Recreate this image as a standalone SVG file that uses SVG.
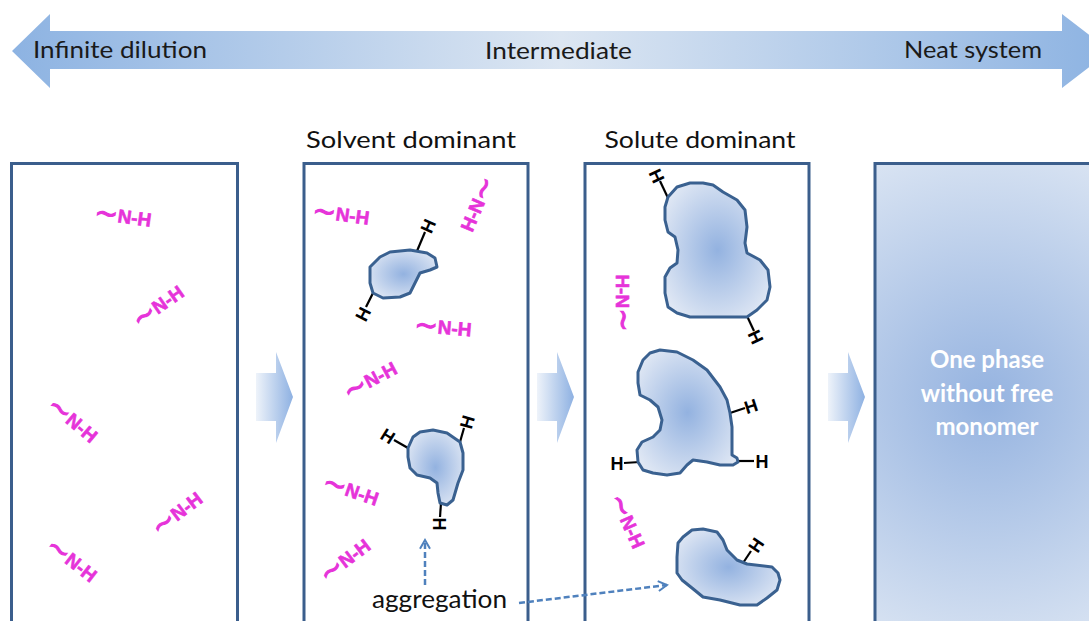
<svg xmlns="http://www.w3.org/2000/svg" width="1089" height="621" viewBox="0 0 1089 621">
  <defs>
    <linearGradient id="scaleGrad" x1="12" y1="0" x2="1110" y2="0" gradientUnits="userSpaceOnUse">
      <stop offset="0" stop-color="#8db3e2"/>
      <stop offset="0.5" stop-color="#dce6f2"/>
      <stop offset="1" stop-color="#8db3e2"/>
    </linearGradient>
    <linearGradient id="stepGrad" x1="0" y1="0" x2="1" y2="0">
      <stop offset="0" stop-color="#eef3fa"/>
      <stop offset="1" stop-color="#8eb1e2"/>
    </linearGradient>
    <radialGradient id="blobGrad" cx="0.5" cy="0.5" r="0.6">
      <stop offset="0" stop-color="#93b2e0"/>
      <stop offset="1" stop-color="#dfe7f4"/>
    </radialGradient>
    <radialGradient id="phaseGrad" cx="987" cy="400" r="270" gradientUnits="userSpaceOnUse">
      <stop offset="0" stop-color="#95b3e0"/>
      <stop offset="1" stop-color="#dbe5f3"/>
    </radialGradient>
    <marker id="openHead" viewBox="0 0 10 10" refX="8" refY="5" markerWidth="5" markerHeight="5" orient="auto" markerUnits="strokeWidth">
      <path d="M1,1 L8,5 L1,9" fill="none" stroke="#4f81bd" stroke-width="1.6"/>
    </marker>
  </defs>
  <style>
    .scale { font-family: Lato, "Liberation Sans", sans-serif; font-size: 24px; fill: #1a1a1a; }
    .head { font-family: Lato, "Liberation Sans", sans-serif; font-size: 23px; fill: #111; }
    .panel { fill: #ffffff; stroke: #3b5e8c; stroke-width: 3; }
    .blob { fill: url(#blobGrad); stroke: #3a6190; stroke-width: 3; stroke-linejoin: round; }
    .nh { font-family: "Liberation Sans", sans-serif; font-weight: bold; font-size: 19px; fill: #e633d9; stroke: #e633d9; stroke-width: 0.6; }
    .tl { font-family: "DejaVu Sans", sans-serif; font-size: 28px; font-weight: normal; stroke-width: 1.1; }
    .stub { stroke: #000; stroke-width: 2.2; }
    .hh { font-family: "Liberation Sans", sans-serif; font-weight: bold; font-size: 18px; fill: #000; }
    .agg { stroke: #4f81bd; stroke-width: 2.5; stroke-dasharray: 6 3; fill: none; }
    .aggText { font-family: Lato, "Liberation Sans", sans-serif; font-size: 25px; fill: #111; }
    .phaseText { font-family: Lato, "Liberation Sans", sans-serif; font-weight: bold; font-size: 24px; fill: #ffffff; }
  </style>

  <!-- concentration scale -->
  <g id="scale">
    <path d="M12,51 L50,14 L50,31 L1062,31 L1062,14 L1110,51 L1062,88 L1062,69 L50,69 L50,88 Z" fill="url(#scaleGrad)"/>
    <text class="scale" x="33" y="58" textLength="174" lengthAdjust="spacingAndGlyphs">Infinite dilution</text>
    <text class="scale" x="485" y="59" textLength="147" lengthAdjust="spacingAndGlyphs">Intermediate</text>
    <text class="scale" x="904" y="58" textLength="138" lengthAdjust="spacingAndGlyphs">Neat system</text>
  </g>

  <!-- panel 1: infinite dilution -->
  <g id="panel-dilute">
    <rect class="panel" x="11.5" y="163.5" width="226" height="470"/>
    <text class="nh" text-anchor="middle" transform="translate(123,216) rotate(8)" y="7"><tspan class="tl" dy="2">~</tspan><tspan dy="-2">N-H</tspan></text>
    <text class="nh" text-anchor="middle" transform="translate(158,306) rotate(-35)" y="7"><tspan class="tl" dy="2">~</tspan><tspan dy="-2">N-H</tspan></text>
    <text class="nh" text-anchor="middle" transform="translate(73,420) rotate(40)" y="7"><tspan class="tl" dy="2">~</tspan><tspan dy="-2">N-H</tspan></text>
    <text class="nh" text-anchor="middle" transform="translate(177,513) rotate(-37)" y="7"><tspan class="tl" dy="2">~</tspan><tspan dy="-2">N-H</tspan></text>
    <text class="nh" text-anchor="middle" transform="translate(72,560) rotate(38)" y="7"><tspan class="tl" dy="2">~</tspan><tspan dy="-2">N-H</tspan></text>
  </g>

  <!-- panel 2: solvent dominant -->
  <g id="panel-solvent">
    <text class="head" x="411" y="148" text-anchor="middle" textLength="210" lengthAdjust="spacingAndGlyphs">Solvent dominant</text>
    <rect class="panel" x="304" y="163.5" width="224" height="470"/>
    <text class="nh" text-anchor="middle" transform="translate(341,214) rotate(8)" y="7"><tspan class="tl" dy="2">~</tspan><tspan dy="-2">N-H</tspan></text>
    <text class="nh" text-anchor="middle" transform="translate(477,204) rotate(-67)" y="7">H-N<tspan class="tl" dy="2">~</tspan></text>
    <text class="nh" text-anchor="middle" transform="translate(443,327) rotate(5)" y="7"><tspan class="tl" dy="2">~</tspan><tspan dy="-2">N-H</tspan></text>
    <text class="nh" text-anchor="middle" transform="translate(370,380) rotate(-28)" y="7"><tspan class="tl" dy="2">~</tspan><tspan dy="-2">N-H</tspan></text>
    <text class="nh" text-anchor="middle" transform="translate(351,490) rotate(19)" y="7"><tspan class="tl" dy="2">~</tspan><tspan dy="-2">N-H</tspan></text>
    <text class="nh" text-anchor="middle" transform="translate(345,560) rotate(-37)" y="7"><tspan class="tl" dy="2">~</tspan><tspan dy="-2">N-H</tspan></text>

    <g id="aggregate-small">
      <line class="stub" x1="417" y1="251" x2="425" y2="232"/>
      <text class="hh" text-anchor="middle" transform="translate(428,226) rotate(-66)" y="6.5">H</text>
      <line class="stub" x1="373" y1="293" x2="366" y2="307"/>
      <text class="hh" text-anchor="middle" transform="translate(363,314) rotate(-63)" y="6.5">H</text>
      <polygon class="blob" points="370,267 380,257 390,252 410,250 427,253 435,258 437,267 430,270 420,273 415,283 410,293 400,297 383,298 373,293 370,283"/>
    </g>

    <g id="aggregate-medium">
      <line class="stub" x1="408" y1="448" x2="394" y2="440"/>
      <text class="hh" text-anchor="middle" transform="translate(388,436) rotate(32)" y="6.5">H</text>
      <line class="stub" x1="460" y1="442" x2="464" y2="428"/>
      <text class="hh" text-anchor="middle" transform="translate(467,422) rotate(-74)" y="6.5">H</text>
      <line class="stub" x1="441" y1="503" x2="440" y2="517"/>
      <text class="hh" text-anchor="middle" transform="translate(439,524) rotate(90)" y="6.5">H</text>
      <polygon class="blob" points="408,448 413,437 420,432 433,430 447,433 460,442 463,453 463,470 458,483 453,500 447,505 440,503 438,493 437,483 430,478 417,475 410,468 408,457"/>
    </g>
  </g>

  <!-- panel 3: solute dominant -->
  <g id="panel-solute">
    <text class="head" x="700" y="148" text-anchor="middle" textLength="191" lengthAdjust="spacingAndGlyphs">Solute dominant</text>
    <rect class="panel" x="585" y="163.5" width="224" height="470"/>
    <text class="nh" text-anchor="middle" transform="translate(623,303) rotate(90)" y="7">H-N<tspan class="tl" dy="2">~</tspan></text>
    <text class="nh" text-anchor="middle" transform="translate(628,521) rotate(66)" y="7"><tspan class="tl" dy="2">~</tspan><tspan dy="-2">N-H</tspan></text>

    <g id="aggregate-large">
      <line class="stub" x1="668" y1="198" x2="660" y2="181"/>
      <text class="hh" text-anchor="middle" transform="translate(657,176) rotate(65)" y="6.5">H</text>
      <line class="stub" x1="747" y1="316" x2="754" y2="331"/>
      <text class="hh" text-anchor="middle" transform="translate(756,337) rotate(65)" y="6.5">H</text>
      <polygon class="blob" points="668,197 677,187 690,183 703,183 713,185 723,192 737,200 745,210 747,227 745,243 747,253 760,260 768,270 770,287 767,300 757,310 747,317 713,317 690,317 677,313 668,307 665,293 665,277 670,268 677,263 678,250 675,237 668,232 665,220 665,207"/>
    </g>

    <g id="aggregate-bent">
      <line class="stub" x1="730" y1="413" x2="745" y2="408"/>
      <text class="hh" text-anchor="middle" transform="translate(751,406) rotate(-18)" y="6.5">H</text>
      <line class="stub" x1="737" y1="461" x2="754" y2="461"/>
      <text class="hh" text-anchor="middle" x="762" y="467.5">H</text>
      <line class="stub" x1="640" y1="462" x2="624" y2="463"/>
      <text class="hh" text-anchor="middle" x="617" y="470">H</text>
      <polygon class="blob" points="638,372 643,360 650,353 660,350 677,352 693,360 707,370 720,387 727,400 730,413 732,427 732,455 737,458 738,462 733,465 720,465 707,462 693,460 687,465 680,473 667,475 653,473 643,470 638,462 637,450 642,442 653,437 660,430 662,420 658,407 650,400 640,395 638,383"/>
    </g>

    <g id="aggregate-tail">
      <line class="stub" x1="743" y1="563" x2="751" y2="551"/>
      <text class="hh" text-anchor="middle" transform="translate(756,545) rotate(-56)" y="6.5">H</text>
      <polygon class="blob" points="678,543 683,537 692,530 703,529 717,532 723,540 727,550 737,560 747,564 772,567 778,573 780,580 777,590 767,598 757,605 740,605 720,600 703,597 692,588 682,580 677,573 677,557"/>
    </g>
  </g>

  <!-- panel 4: neat system -->
  <g id="panel-neat">
    <rect x="875" y="163.5" width="230" height="470" fill="url(#phaseGrad)" stroke="#3b5e8c" stroke-width="3"/>
    <text class="phaseText" text-anchor="middle" x="987" y="368">One phase</text>
    <text class="phaseText" text-anchor="middle" x="987" y="402">without free</text>
    <text class="phaseText" text-anchor="middle" x="987" y="435">monomer</text>
  </g>

  <!-- step arrows between panels and aggregation pointers -->
  <g id="connectors">
    <path d="M256,373 L276,373 L276,352 L293,397 L276,443 L276,421 L256,421 Z" fill="url(#stepGrad)"/>
    <path d="M537,373 L557,373 L557,352 L574,397 L557,443 L557,421 L537,421 Z" fill="url(#stepGrad)"/>
    <path d="M828,373 L848,373 L848,352 L865,397 L848,443 L848,421 L828,421 Z" fill="url(#stepGrad)"/>
    <line class="agg" x1="425" y1="585" x2="425" y2="540" marker-end="url(#openHead)"/>
    <line class="agg" x1="519" y1="603" x2="667" y2="585" marker-end="url(#openHead)"/>
  </g>
  <text class="aggText" x="372" y="608" textLength="135" lengthAdjust="spacingAndGlyphs">aggregation</text>
</svg>
